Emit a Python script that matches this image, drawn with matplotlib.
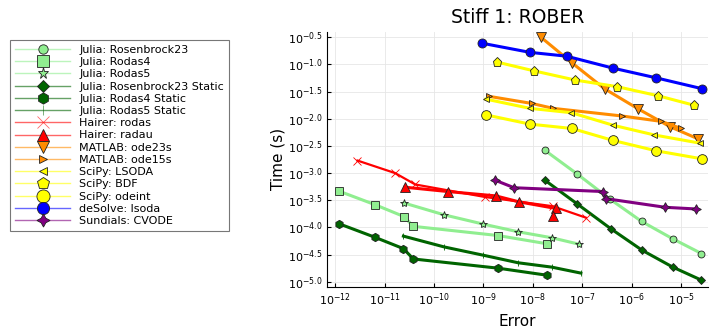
import numpy as np
import matplotlib
matplotlib.use("Agg")
import matplotlib.pyplot as plt
from matplotlib.colors import to_rgba
from matplotlib.ticker import FixedLocator, FixedFormatter, NullLocator
from matplotlib.lines import Line2D

# log10 of error / log10 of time for each solver
ros23_err = [-7.76, -7.10, -6.44, -5.80, -5.17, -4.59]
ros23_time = [-2.58, -3.02, -3.48, -3.89, -4.21, -4.48]
rodas4_err = [-11.93, -11.20, -10.61, -10.42, -8.70, -7.72]
rodas4_time = [-3.33, -3.58, -3.80, -3.98, -4.15, -4.30]
rodas5_err = [-10.61, -9.79, -9.00, -8.30, -7.62, -7.06]
rodas5_time = [-3.55, -3.77, -3.94, -4.08, -4.19, -4.31]
ros23s_err = [-7.76, -7.10, -6.43, -5.79, -5.17, -4.59]
ros23s_time = [-3.13, -3.57, -4.02, -4.42, -4.73, -4.97]
rodas4s_err = [-11.93, -11.20, -10.62, -10.42, -8.70, -7.71]
rodas4s_time = [-3.93, -4.18, -4.39, -4.58, -4.75, -4.88]
rodas5s_err = [-10.62, -9.79, -9.01, -8.30, -7.62, -7.03]
rodas5s_time = [-4.16, -4.36, -4.51, -4.65, -4.73, -4.84]
h_rodas_err = [-11.55, -10.79, -10.38, -8.97, -7.60, -6.93]
h_rodas_time = [-2.77, -3.00, -3.21, -3.44, -3.61, -3.82]
h_radau_err = [-10.59, -9.72, -8.75, -8.28, -7.54, -7.59]
h_radau_time = [-3.26, -3.34, -3.42, -3.53, -3.65, -3.79]
ode23s_err = [-7.84, -7.20, -6.55, -5.87, -5.22, -4.66]
ode23s_time = [-0.50, -0.98, -1.45, -1.82, -2.15, -2.37]
ode15s_err = [-8.88, -8.02, -7.59, -6.20, -5.40, -5.00]
ode15s_time = [-1.59, -1.72, -1.81, -1.95, -2.05, -2.18]
lsoda_err = [-8.95, -8.06, -7.22, -6.38, -5.54, -4.62]
lsoda_time = [-1.64, -1.81, -1.89, -2.12, -2.30, -2.45]
bdf_err = [-8.72, -7.98, -7.14, -6.30, -5.46, -4.75]
bdf_time = [-0.96, -1.12, -1.29, -1.41, -1.58, -1.75]
odeint_err = [-8.95, -8.06, -7.21, -6.38, -5.51, -4.57]
odeint_time = [-1.93, -2.10, -2.18, -2.40, -2.59, -2.74]
desolve_err = [-9.04, -8.06, -7.32, -6.38, -5.50, -4.57]
desolve_time = [-0.61, -0.78, -0.85, -1.07, -1.25, -1.45]
cvode_err = [-8.77, -8.38, -6.58, -6.53, -5.32, -4.71]
cvode_time = [-3.13, -3.27, -3.34, -3.47, -3.63, -3.66]

star4 = (4, 1, 0)
series = [
    ("Julia: Rosenbrock23", ros23_err, ros23_time, "lightgreen", "o", 5.0),
    ("Julia: Rodas4", rodas4_err, rodas4_time, "lightgreen", "s", 6.0),
    ("Julia: Rodas5", rodas5_err, rodas5_time, "lightgreen", "*", 6.0),
    ("Julia: Rosenbrock23 Static", ros23s_err, ros23s_time, "darkgreen", "D", 4.5),
    ("Julia: Rodas4 Static", rodas4s_err, rodas4s_time, "darkgreen", "h", 6.0),
    ("Julia: Rodas5 Static", rodas5s_err, rodas5s_time, "darkgreen", "|", 5.0),
    ("Hairer: rodas", h_rodas_err, h_rodas_time, "red", "x", 6.0),
    ("Hairer: radau", h_radau_err, h_radau_time, "red", "^", 6.5),
    ("MATLAB: ode23s", ode23s_err, ode23s_time, "darkorange", "v", 6.5),
    ("MATLAB: ode15s", ode15s_err, ode15s_time, "darkorange", ">", 4.5),
    ("SciPy: LSODA", lsoda_err, lsoda_time, "yellow", "<", 4.5),
    ("SciPy: BDF", bdf_err, bdf_time, "yellow", "p", 6.5),
    ("SciPy: odeint", odeint_err, odeint_time, "yellow", "o", 7.0),
    ("deSolve: lsoda", desolve_err, desolve_time, "blue", "o", 6.5),
    ("Sundials: CVODE", cvode_err, cvode_time, "purple", star4, 7.0),
]

fig = plt.figure(figsize=(7.10, 3.32), dpi=100)
ax = fig.add_axes([0.461, 0.136, 0.536, 0.769])

handles = []
for label, err, t, color, marker, ms in series:
    x = np.power(10.0, err)
    y = np.power(10.0, t)
    edge = color if marker in ("x", "|") else "#222222"
    lw = 1.6 if label == "Hairer: rodas" else 2.2
    ax.plot(x, y, color=color, lw=lw, marker=marker, ms=ms,
            mfc=color, mec=edge, mew=0.6)
    # key entries: thin pale line, solid marker
    handles.append(Line2D([], [], color=to_rgba(color, 0.6), lw=1.0,
                          marker=marker, ms=ms * 1.35, mfc=to_rgba(color),
                          mec=to_rgba(edge, 0.6 if marker in ("x", "|") else 1.0),
                          mew=0.6, label=label))

ax.set_xscale("log")
ax.set_yscale("log")
ax.set_xlim(10 ** -12.16, 10 ** -4.46)
ax.set_ylim(10 ** -5.093, 10 ** -0.397)

xt = list(range(-12, -4))
ax.xaxis.set_major_locator(FixedLocator([10.0 ** k for k in xt]))
ax.xaxis.set_major_formatter(FixedFormatter([r"$10^{%d}$" % k for k in xt]))
yt = [-0.5, -1.0, -1.5, -2.0, -2.5, -3.0, -3.5, -4.0, -4.5, -5.0]
ax.yaxis.set_major_locator(FixedLocator([10.0 ** k for k in yt]))
ax.yaxis.set_major_formatter(FixedFormatter([r"$10^{%.1f}$" % k for k in yt]))
ax.xaxis.set_minor_locator(NullLocator())
ax.yaxis.set_minor_locator(NullLocator())

ax.tick_params(direction="in", length=3, labelsize=8, width=0.8)
ax.grid(True, color="#e6e6e6", lw=0.6)
ax.set_axisbelow(True)
for s in ("top", "right"):
    ax.spines[s].set_visible(False)

ax.set_title("Stiff 1: ROBER", fontsize=13.5, pad=6)
ax.set_xlabel("Error", fontsize=11, labelpad=4)
ax.set_ylabel("Time (s)", fontsize=11, labelpad=2)

leg = fig.legend(handles=handles, loc="upper left",
                 bbox_to_anchor=(0.014, 0.88), fontsize=8, frameon=True,
                 fancybox=False, edgecolor="#555555", handlelength=5.0,
                 labelspacing=0.2, borderpad=0.45, handletextpad=0.8,
                 borderaxespad=0.0)
leg.get_frame().set_linewidth(0.8)

fig.savefig("out.png", dpi=100)
